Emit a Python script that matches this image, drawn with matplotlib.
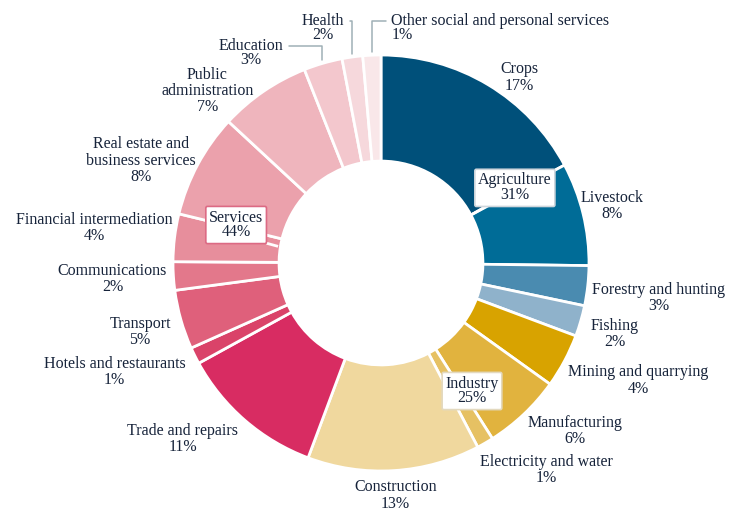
import numpy as np
import matplotlib
matplotlib.use("Agg")
import matplotlib.pyplot as plt

# sector shares (%), clockwise from 12 o'clock
sectors = [
    "Crops", "Livestock", "Forestry and hunting", "Fishing",
    "Mining and quarrying", "Manufacturing", "Electricity and water", "Construction",
    "Trade and repairs", "Hotels and restaurants", "Transport", "Communications",
    "Financial intermediation", "Real estate and\nbusiness services",
    "Public\nadministration", "Education", "Health", "Other social and personal services",
]
shares = [17.2, 8.0, 3.1, 2.4,
          4.2, 6.1, 1.3, 13.4,
          11.3, 1.3, 4.6, 2.2, 3.7, 8.1, 7.1, 3.0, 1.6, 1.4]
share_labels = ["17%", "8%", "3%", "2%",
                "4%", "6%", "1%", "13%",
                "11%", "1%", "5%", "2%", "4%", "8%", "7%", "3%", "2%", "1%"]

groups = ["Agriculture", "Industry", "Services"]
group_labels = ["31%", "25%", "44%"]

colors = ["#00507a", "#006c97", "#4a8bb0", "#8fb2cb",
          "#d8a300", "#e1b33e", "#e6c163", "#f0d89e",
          "#d82c62", "#da4369", "#df607b", "#e3788b", "#e78e9c",
          "#eba1ac", "#efb5bd", "#f3c7cd", "#f6d8dc", "#f9e7e9"]

TXT = "#16233a"
FS = 11.5
LS = 1.02
plt.rcParams["font.family"] = ["Liberation Serif", "DejaVu Serif"]

fig = plt.figure(figsize=(7.31, 5.11), dpi=100)
ax = fig.add_axes([0, 0, 1, 1])

wedges, _ = ax.pie(shares, colors=colors, startangle=90, counterclock=False,
                   radius=1, wedgeprops=dict(width=0.51, edgecolor="white", linewidth=2))

# layout tweaks for the outside labels: (radius, dx, dy)
label_tweak = {0: (1.04, 0.04, 0.0), 1: (1.01, -0.02, 0.035), 2: (1.02, 0.0, -0.055),
               3: (1.05, 0.0, -0.05), 4: (1.03, -0.01, -0.08), 5: (1.05, -0.015, -0.045),
               6: (1.05, -0.05, -0.085), 7: (1.12, 0.0, 0.0), 8: (1.08, 0.02, -0.03),
               9: (1.05, 0.0, -0.055), 10: (1.05, 0.0, -0.045), 11: (1.05, 0.02, -0.01),
               12: (1.04, 0.03, 0.04), 13: (1.04, 0.025, 0.0), 14: (1.05, -0.02, -0.04)}
leader = {15: (-0.625, 1.01, 1.0), 16: (-0.28, 1.13, 1.0), 17: (0.05, 1.13, 0.0)}

for i, w in enumerate(wedges):
    mid = np.deg2rad((w.theta1 + w.theta2) / 2)
    txt = f"{sectors[i]}\n{share_labels[i]}"
    if i in leader:
        tx, ty, rel = leader[i]
        px, py = 1.015 * np.cos(mid), 1.015 * np.sin(mid)
        ax.annotate(txt, xy=(px, py), xytext=(tx, ty), fontsize=FS, color=TXT,
                    ha="center" if i != 17 else "left", va="center",
                    multialignment="center" if i != 17 else "left", linespacing=0.9,
                    arrowprops=dict(arrowstyle="-", color="#9fb0b6", lw=1.1,
                                    relpos=(rel, 0.74), shrinkA=2, shrinkB=0,
                                    connectionstyle="angle,angleA=0,angleB=90,rad=0"))
        continue
    r, dx, dy = label_tweak.get(i, (1.05, 0.0, 0.0))
    x, y = r * np.cos(mid) + dx, r * np.sin(mid) + dy
    c = np.cos(mid)
    ha = "center" if abs(c) < 0.2 else ("left" if c > 0 else "right")
    ax.text(x, y, txt, fontsize=FS, color=TXT, ha=ha, va="center",
            multialignment="center", linespacing=LS)

# group boxes: (angle deg, radius, edge colour)
box_layout = [(29.3, 0.738, "#cfd6dc"), (-54.6, 0.755, "#e3d9bf"), (165.3, 0.72, "#dc6a84")]
for g, gl, (ang, r, ec) in zip(groups, group_labels, box_layout):
    a = np.deg2rad(ang)
    ax.text(r * np.cos(a), r * np.sin(a), f"{g}\n{gl}", fontsize=FS, color=TXT,
            ha="center", va="center", linespacing=0.9,
            bbox=dict(boxstyle="round,pad=0.2,rounding_size=0.1", fc="white", ec=ec, lw=1.2))

# small white ticks from boxes to the ring
ax.plot([0.44, 0.50], [0.235, 0.27], color="white", lw=2, solid_capstyle="butt")
ax.plot([-0.55, -0.495], [0.095, 0.08], color="white", lw=2, solid_capstyle="butt")

ax.set_xlim(-381 / 208, (731 - 381) / 208)
ax.set_ylim(-(511 - 263) / 208, 263 / 208)
ax.set_aspect("auto")
ax.axis("off")

fig.savefig("out.png", dpi=100)
